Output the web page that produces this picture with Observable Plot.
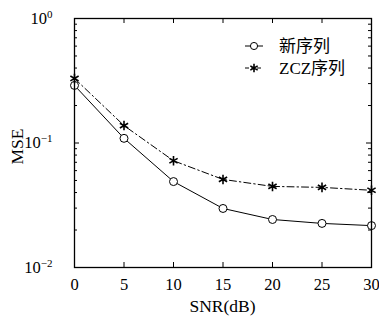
<!DOCTYPE html>
<html><head><meta charset="utf-8">
<script src="https://cdn.jsdelivr.net/npm/d3@7"></script>
<script src="https://cdn.jsdelivr.net/npm/@observablehq/plot@0.6"></script>
<style>body{margin:0;background:#fff}</style>
</head><body><div id="chart"></div>
<script>
const snr = [0, 5, 10, 15, 20, 25, 30];
const mseNew = [0.29, 0.109, 0.049, 0.0298, 0.0243, 0.0226, 0.0217];
const mseZCZ = [0.33, 0.138, 0.072, 0.051, 0.0448, 0.044, 0.0417];
const seriesNames = ["新序列", "ZCZ序列"];
const xTicks = [0, 5, 10, 15, 20, 25, 30];
const yMajor = [0.01, 0.1, 1];
const yMinor = [0.02,0.03,0.04,0.05,0.06,0.07,0.08,0.09,0.2,0.3,0.4,0.5,0.6,0.7,0.8,0.9];
const xLabel = "SNR(dB)";
const yLabel = "MSE";

const W = 379, H = 323, mL = 74, mR = 8, mT = 18, mB = 56;
const pw = W - mL - mR, ph = H - mT - mB;

const dNew = snr.map((x, i) => ({x, y: mseNew[i]}));
const dZCZ = snr.map((x, i) => ({x, y: mseZCZ[i]}));

const chart = Plot.plot({
  width: W, height: H,
  marginLeft: mL, marginRight: mR, marginTop: mT, marginBottom: mB,
  style: {fontFamily: "'Liberation Serif', serif", fontSize: "16px", background: "white", color: "black"},
  x: {domain: [0, 30]},
  y: {type: "log", domain: [0.01, 1]},
  marks: [
    Plot.ruleX(xTicks, {x: d => d, insetTop: ph - 5, stroke: "black"}),
    Plot.ruleX(xTicks, {x: d => d, insetBottom: ph - 5, stroke: "black"}),
    Plot.ruleY(yMajor, {y: d => d, insetRight: pw - 5, stroke: "black"}),
    Plot.ruleY(yMajor, {y: d => d, insetLeft: pw - 5, stroke: "black"}),
    Plot.ruleY(yMinor, {y: d => d, insetRight: pw - 3, stroke: "black"}),
    Plot.ruleY(yMinor, {y: d => d, insetLeft: pw - 3, stroke: "black"}),
    Plot.axisX({ticks: xTicks, tickSize: 0, tickPadding: 11, label: null, fontSize: 16.5}),
    Plot.axisY({ticks: yMajor, tickSize: 0, tickPadding: 12, tickFormat: () => "10", label: null, fontSize: 16.5}),
    Plot.line(dZCZ, {x: "x", y: "y", stroke: "black", strokeWidth: 1, strokeDasharray: "7,3,1.5,3"}),
    Plot.line(dNew, {x: "x", y: "y", stroke: "black", strokeWidth: 1}),
    Plot.dot(dNew, {x: "x", y: "y", symbol: "circle", r: 4, stroke: "black", fill: "white", strokeWidth: 1}),
    Plot.dot(dZCZ, {x: "x", y: "y", symbol: "asterisk", r: 4.5, stroke: "black", strokeWidth: 1.6}),
    Plot.frame({stroke: "black", strokeWidth: 1.3})
  ]
});
document.getElementById("chart").appendChild(chart);

const svg = d3.select(chart);
// superscripts on y tick labels
svg.selectAll('g[aria-label="y-axis tick label"] text').each(function(_, i) {
  const e = Math.round(Math.log10(yMajor[i]));
  const t = d3.select(this);
  t.text("10");
  t.attr("dx", "-10");
  t.append("tspan").attr("dy", "-0.55em").attr("font-size", "11px").text(e < 0 ? "−" + (-e) : String(e));
});
// axis labels
svg.append("text").attr("x", mL + pw / 2).attr("y", 312).attr("text-anchor", "middle")
  .attr("font-family", "'Liberation Serif', serif").attr("font-size", 17.5).text(xLabel);
svg.append("text").attr("transform", `translate(23,${mT + ph / 2 + 4}) rotate(-90)`).attr("text-anchor", "middle")
  .attr("font-family", "'Liberation Serif', serif").attr("font-size", 17.5).text(yLabel);
// legend
const lg = svg.append("g").attr("font-family", "'Liberation Serif', 'Noto Sans CJK SC', serif").attr("font-size", 17).attr("text-anchor", "start");
const rows = [
  {name: seriesNames[0], dash: null, sym: "circle"},
  {name: seriesNames[1], dash: "4,2", sym: "asterisk"}
];
rows.forEach((r, i) => {
  const y = 46 + i * 22;
  lg.append("line").attr("x1", 245).attr("x2", 263).attr("y1", y).attr("y2", y)
    .attr("stroke", "black").attr("stroke-dasharray", r.dash);
  const sym = d3.symbol(r.sym === "circle" ? d3.symbolCircle : d3.symbolAsterisk, r.sym === "circle" ? 40 : 50)();
  lg.append("path").attr("d", sym).attr("transform", `translate(254,${y})`)
    .attr("fill", r.sym === "circle" ? "white" : "none").attr("stroke", "black").attr("stroke-width", r.sym === "circle" ? 1 : 1.6);
  lg.append("text").attr("x", 279).attr("y", y).attr("dy", "0.35em").text(r.name);
});
</script>
</body></html>
